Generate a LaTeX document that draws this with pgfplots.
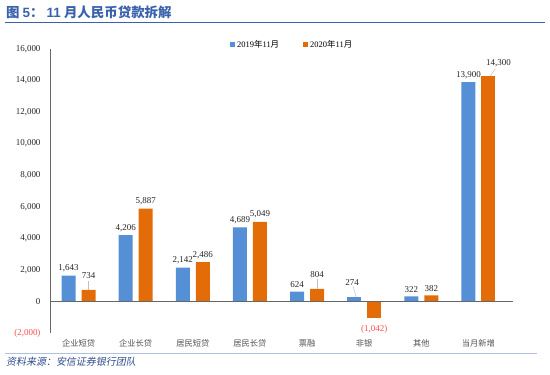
\documentclass[border=0pt]{standalone}
\usepackage{pgfplots}
\pgfplotsset{compat=1.18}
\usepackage{fontspec}
\setmainfont{Liberation Serif}
\newfontfamily\cjk{Noto Sans CJK SC}
\newfontfamily\cjkit[FakeSlant=0.2]{Noto Sans CJK SC}
\newfontfamily\sans{Liberation Sans}
\definecolor{cblue}{HTML}{5590D6}
\definecolor{corange}{HTML}{E36C09}
\definecolor{ttl}{HTML}{3A62AC}
\definecolor{src}{HTML}{2F4C8C}
\definecolor{negred}{HTML}{FF4B4B}
\begin{document}
\begin{tikzpicture}[x=1bp,y=1bp]
\path (0,0) rectangle (550,374);
\node[anchor=base west, text=ttl, inner sep=0, font=\fontsize{13.5}{15}\selectfont] at (6,357)
  {{\cjk\bfseries 图 }{\sans\bfseries 5}{\cjk\bfseries ： }{\sans\bfseries 11}{\cjk\bfseries\ 月人民币贷款拆解}};
\draw[ttl, line width=1.2bp] (5,351.5) -- (545,351.5);
\draw[ttl!40, line width=0.8bp] (5,21) -- (537,21);
\node[anchor=base west, text=src, inner sep=0, font=\fontsize{10}{11}\selectfont] at (6,9) {\cjkit 资料来源：安信证券银行团队};
\begin{axis}[
  at={(50bp,41bp)}, anchor=south west, scale only axis,
  width=457bp, height=284bp,
  xmin=-0.5, xmax=7.5, ymin=-2000, ymax=16000,
  scaled y ticks=false,
  axis lines*=left,
  x axis line style={draw=none},
  y axis line style={draw=gray!80!black, line width=0.8bp},
  major tick length=0,
  xtick={0,1,2,3,4,5,6,7},
  xticklabels={企业短贷,企业长贷,居民短贷,居民长贷,票融,非银,其他,当月新增},
  xticklabel style={font=\cjk\fontsize{8.3}{9}\selectfont, text=gray!65!black, yshift=-3bp},
  ytick={-2000,0,2000,4000,6000,8000,10000,12000,14000,16000},
  yticklabels={{\textcolor{negred}{(2,000)}},0,{2,000},{4,000},{6,000},{8,000},{10,000},{12,000},{14,000},{16,000}},
  yticklabel style={font=\fontsize{9}{10}\selectfont, text=black!85, xshift=-6bp},
  ybar, bar width=14bp,
  nodes near coords, point meta=explicit symbolic,
  nodes near coords style={font=\fontsize{9}{10}\selectfont, text=black!85},
  clip=false,
  legend style={at={(0.53,1.015)}, anchor=center, draw=none, fill=none,
    legend columns=2, font=\fontsize{8.5}{9}\selectfont,
    /tikz/every even column/.append style={column sep=22bp}},
]
\addplot[fill=cblue, draw=none, bar shift=-10bp,
  legend image code/.code={\fill[cblue] (0bp,-2.5bp) rectangle (5bp,2.5bp);}]
  coordinates {(0,1643)[1,643] (1,4206)[4,206] (2,2142)[2,142] (3,4689)[4,689] (4,624)[624] (6,322)[322] (7,13900)[13,900]};
\addlegendentry{2019{\cjk 年}11{\cjk 月}}
\addplot[fill=corange, draw=none, bar shift=10bp,
  legend image code/.code={\fill[corange] (0bp,-2.5bp) rectangle (5bp,2.5bp);}]
  coordinates {(1,5887)[5,887] (2,2486)[2,486] (3,5049)[5,049] (6,382)[382]};
\addlegendentry{2020{\cjk 年}11{\cjk 月}}
\addplot[fill=cblue, draw=none, bar shift=-10bp, forget plot,
  nodes near coords style={yshift=8bp, xshift=-2bp}]
  coordinates {(5,274)[274]};
\addplot[fill=corange, draw=none, bar shift=10bp, forget plot,
  nodes near coords style={yshift=8bp}]
  coordinates {(0,734)[734] (4,804)[804]};
\addplot[fill=corange, draw=none, bar shift=10bp, forget plot,
  nodes near coords style={yshift=5bp, xshift=10bp}]
  coordinates {(7,14300)[14,300]};
\addplot[fill=corange, draw=none, bar shift=10bp, forget plot,
  nodes near coords style={anchor=north, yshift=-4bp, text=negred}]
  coordinates {(5,-1042)[(1,042)]};
\draw[gray!50, line width=0.5bp] ([xshift=10bp]axis cs:0,734) -- ([xshift=10bp]axis cs:0,1300);
\draw[gray!50, line width=0.5bp] ([xshift=10bp]axis cs:4,804) -- ([xshift=10bp]axis cs:4,1450);
\draw[gray!50, line width=0.5bp] ([xshift=-8bp]axis cs:5,274) -- ([xshift=-11bp]axis cs:5,950);
\draw[gray!50, line width=0.5bp] ([xshift=12bp]axis cs:7,14300) -- ([xshift=17bp]axis cs:7,14750);
\draw[gray!80!black, line width=0.8bp] (axis cs:-0.5,0) -- (axis cs:7.6,0);
\end{axis}
\end{tikzpicture}
\end{document}
